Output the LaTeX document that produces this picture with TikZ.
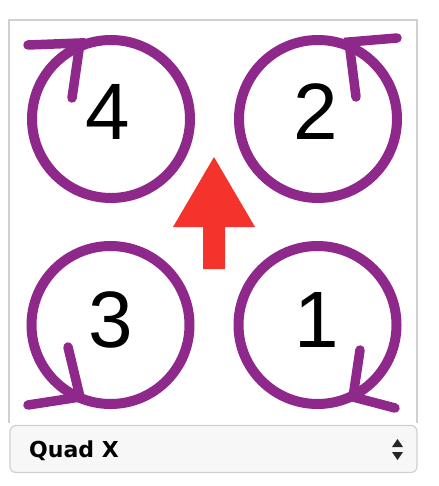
\documentclass[tikz,border=0pt]{standalone}
\usepackage{fontspec}
\setmainfont{Liberation Sans}
\newfontfamily\uifont{DejaVu Sans}
\definecolor{motor}{RGB}{142,41,139}
\definecolor{redarrow}{RGB}{244,52,44}
\definecolor{framegray}{RGB}{208,208,208}
\definecolor{boxfill}{RGB}{247,247,247}
\tikzset{
  motorring/.style={circle, draw=motor, line width=10pt, minimum size=158pt, inner sep=0pt},
  barb/.style={draw=motor, line width=9.5pt, line cap=round},
  digit/.style={anchor=base, inner sep=0pt, font=\fontsize{80}{80}\selectfont},
}
\begin{document}
\begin{tikzpicture}[x=1pt,y=-1pt]
\useasboundingbox (0,0) rectangle (438,486);
% frame
\draw[framegray, line width=1.5pt] (9,423) -- (9,20) -- (417,20) -- (417,423);
% motors
\node[motorring] (m4) at (111,119) {};
\node[motorring] (m2) at (318,119) {};
\node[motorring] (m3) at (110.5,325) {};
\node[motorring] (m1) at (317.5,325) {};
% digits
\node[digit] (d4) at (108,140) {4};
\node[digit] (d2) at (316,140) {2};
\node[digit] (d3) at (111,347) {3};
\node[digit] (d1) at (317,347) {1};
% barbs
\coordinate (p4) at (80,43);  \coordinate (p4a) at (28,45);  \coordinate (p4b) at (72,98);
\coordinate (p2) at (349,42); \coordinate (p2a) at (397,38); \coordinate (p2b) at (356,97);
\coordinate (p3) at (80,397); \coordinate (p3a) at (28,405); \coordinate (p3b) at (68,347);
\coordinate (p1) at (353,397); \coordinate (p1a) at (395,408); \coordinate (p1b) at (360,350);
\draw[barb] (p4a) -- (p4) -- (p4b);
\draw[barb] (p2a) -- (p2) -- (p2b);
\draw[barb] (p3a) -- (p3) -- (p3b);
\draw[barb] (p1a) -- (p1) -- (p1b);
% red arrow
\fill[redarrow] (214,157) -- (255,227) -- (225,227) -- (225,269) -- (203,269) -- (203,227) -- (173,227) -- cycle;
% dropdown
\node[draw=framegray, fill=boxfill, line width=1.2pt, rounded corners=6pt, minimum width=407pt, minimum height=47pt, inner sep=0pt] (sel) at (213.5,449) {};
\node[anchor=base west, inner sep=0pt, font=\uifont\bfseries\fontsize{22}{22}\selectfont] (lbl) at (29,457) {Quad X};
\fill[black!85] (397.5,439) -- (403,447) -- (392,447) -- cycle;
\fill[black!85] (392,452) -- (403,452) -- (397.5,460) -- cycle;
\end{tikzpicture}
\end{document}
